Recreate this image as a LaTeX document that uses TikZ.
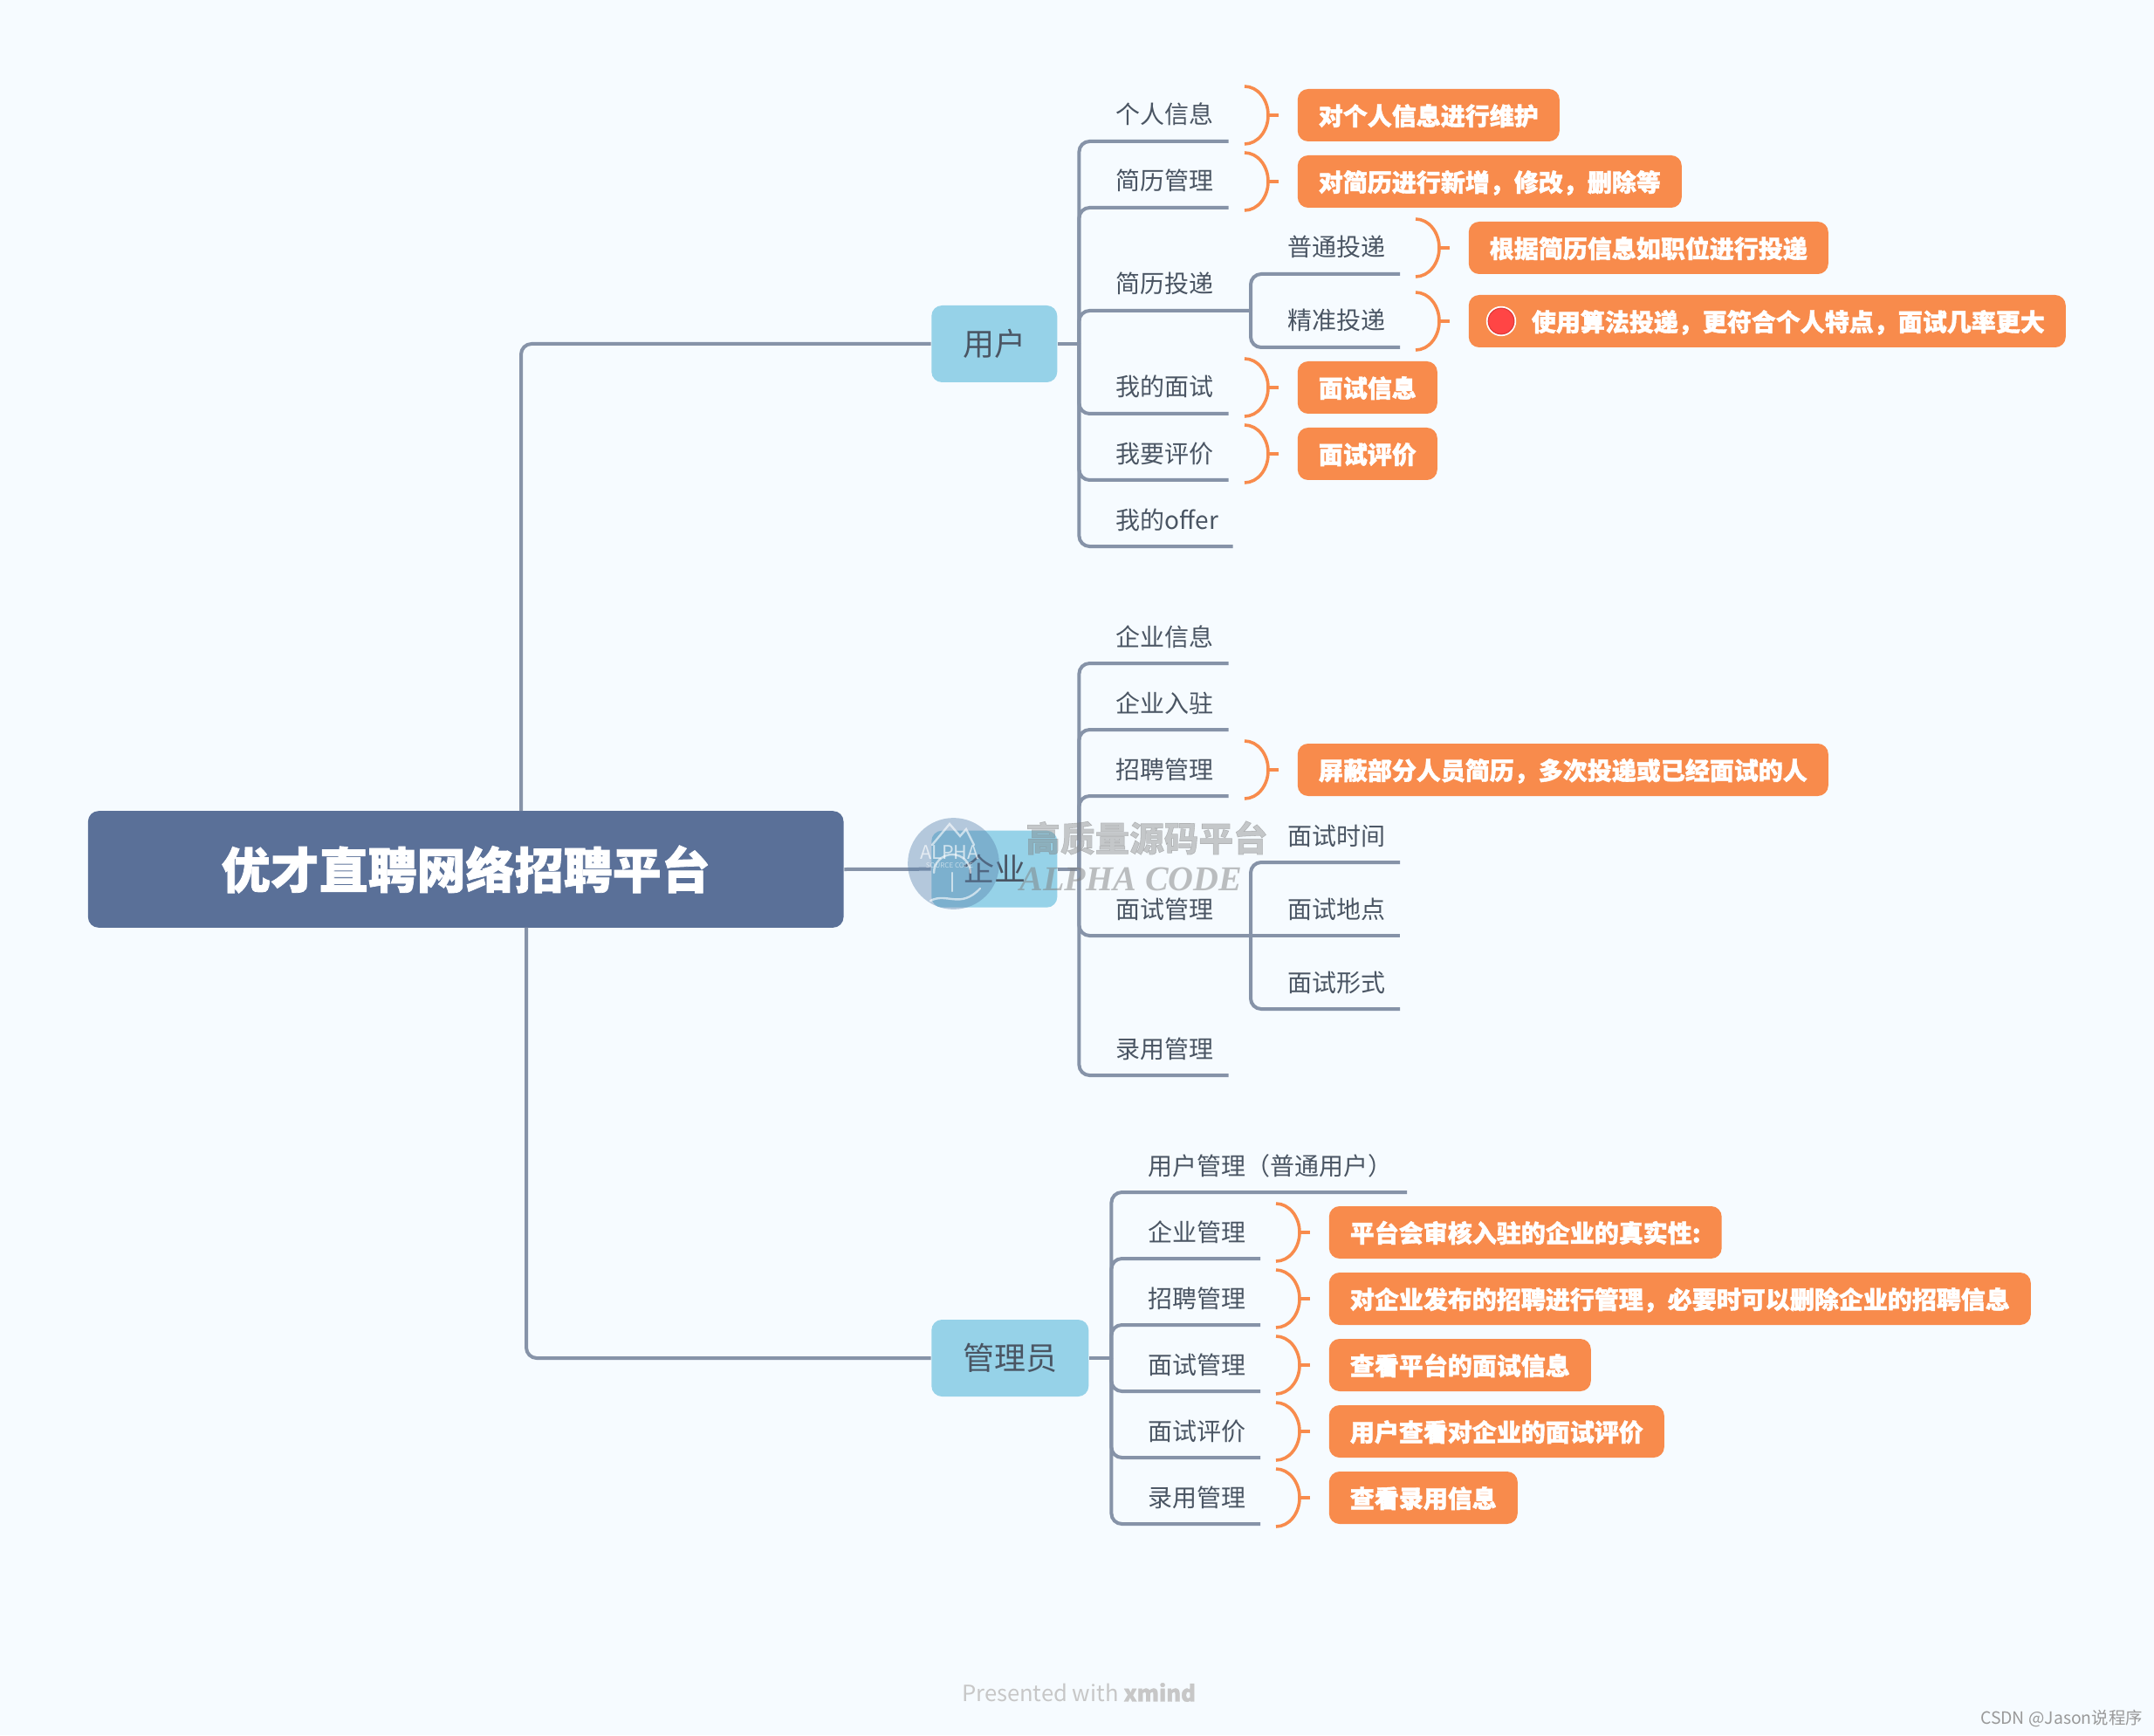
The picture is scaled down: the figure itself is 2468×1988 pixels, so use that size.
\documentclass[tikz,border=0pt]{standalone}
\usepackage{xcolor}
\usepackage{fontspec}
\setmainfont[BoldFeatures={FakeBold=1.4}]{Noto Sans CJK SC}
\newfontfamily\markfont{Liberation Serif}
\definecolor{bgcol}{HTML}{F6FBFF}
\definecolor{rootcol}{HTML}{5A7098}
\definecolor{maincol}{HTML}{96D2E8}
\definecolor{notecol}{HTML}{F88B4C}
\definecolor{linecol}{HTML}{8693A8}
\definecolor{inkcol}{HTML}{4A5563}
\definecolor{dotcol}{HTML}{FF4545}
\definecolor{ringcol}{HTML}{E03C3C}
\definecolor{logocol}{HTML}{5A82AC}
\begin{document}
\begin{tikzpicture}[
    x=0.25pt, y=-0.25pt,
    root/.style={fill=rootcol, rounded corners=3pt, text=white, inner sep=0pt,
                 font=\fontsize{14}{16}\selectfont\bfseries,
                 minimum width=216.4pt, minimum height=33.4pt},
    mainb/.style={fill=maincol, rounded corners=3pt, text=inkcol, anchor=west,
                  font=\fontsize{9}{11}\selectfont, inner xsep=9pt, inner ysep=0pt,
                  minimum height=22pt, text height=7.92pt, text depth=1.08pt},
    topic/.style={anchor=south west, text=inkcol, inner sep=0pt,
                  font=\fontsize{7}{9}\selectfont, minimum height=16pt,
                  text height=6.7pt, text depth=.3pt,
                  execute at end node={\hspace*{4pt}}},
    note/.style={fill=notecol, rounded corners=3pt, text=white, anchor=west,
                 font=\fontsize{7}{9}\selectfont\bfseries, inner xsep=6pt, inner ysep=0pt,
                 minimum height=15pt, text height=6.35pt, text depth=.65pt},
    branch/.style={draw=linecol, line width=1pt, rounded corners=3pt},
    redmark/.style={circle, inner sep=0pt, minimum size=7.4pt, fill=dotcol, draw=ringcol,
                    line width=.3pt, preaction={draw=white, line width=1.2pt}},
    logoline/.style={draw=white, opacity=.6, line width=.6pt, line cap=round},
    brk/.pic={
        \draw[notecol, line width=.9pt] (-60,-33) .. controls (-45,-33) and (-33,-18) .. (-33,0)
            .. controls (-33,18) and (-45,33) .. (-60,33);
        \draw[notecol, line width=.9pt] (-33,0) -- (-21,0);
    },
]
\useasboundingbox (0,0) rectangle (2468,1988);
\fill[bgcol] (0,0) rectangle (2468,1988);

\node[root] (plat) at (533.7,996) {优才直聘网络招聘平台};
\node[mainb] (user) at (1066.5,394) {用户};
\node[mainb] (comp) at (1066.5,995.7) {企业};
\node[mainb] (admin) at (1066.5,1556) {管理员};

\node[topic] (ua) at (1278,162) {个人信息};
\node[topic] (ub) at (1278,238) {简历管理};
\node[topic] (uc) at (1278,356) {简历投递};
\node[topic] (ud) at (1278,474) {我的面试};
\node[topic] (ue) at (1278,550) {我要评价};
\node[topic] (uf) at (1278,626) {我的offer};
\node[topic] (va) at (1474.5,314) {普通投递};
\node[topic] (vb) at (1474.5,398) {精准投递};

\node[topic] (ca) at (1278,760) {企业信息};
\node[topic] (cb) at (1278,836) {企业入驻};
\node[topic] (cc) at (1278,912) {招聘管理};
\node[topic] (cd) at (1278,1072) {面试管理};
\node[topic] (ce) at (1278,1232) {录用管理};
\node[topic] (wa) at (1474.5,988) {面试时间};
\node[topic] (wb) at (1474.5,1072) {面试地点};
\node[topic] (wc) at (1474.5,1156) {面试形式};

\node[topic] (aa) at (1314.5,1366) {用户管理（普通用户）};
\node[topic] (ab) at (1314.5,1442) {企业管理};
\node[topic] (ac) at (1314.5,1518) {招聘管理};
\node[topic] (ad) at (1314.5,1594) {面试管理};
\node[topic] (ae) at (1314.5,1670) {面试评价};
\node[topic] (af) at (1314.5,1746) {录用管理};

\node[note] (na) at (1486,132) {对个人信息进行维护};
\node[note] (nb) at (1486,208) {对简历进行新增，修改，删除等};
\node[note] (nc) at (1682,284) {根据简历信息如职位进行投递};
\node[note] (nd) at (1682,368) {\hspace*{12pt}使用算法投递，更符合个人特点，面试几率更大};
\node[note] (ne) at (1486,444) {面试信息};
\node[note] (nf) at (1486,520) {面试评价};
\node[note] (ng) at (1486,882) {屏蔽部分人员简历，多次投递或已经面试的人};
\node[note] (nh) at (1522,1412) {平台会审核入驻的企业的真实性:};
\node[note] (ni) at (1522,1488) {对企业发布的招聘进行管理，必要时可以删除企业的招聘信息};
\node[note] (nj) at (1522,1564) {查看平台的面试信息};
\node[note] (nk) at (1522,1640) {用户查看对企业的面试评价};
\node[note] (nl) at (1522,1716) {查看录用信息};
\node[redmark] (dot) at (1720,368) {};

\coordinate (rootup) at (597,929);
\coordinate (rootdn) at (603,1062.7);
\coordinate (hubu) at (1236.4,394);
\coordinate (hubc) at (1236.4,995.7);
\coordinate (huba) at (1273.4,1556);
\coordinate (hubv) at (1433,356);
\coordinate (hubw) at (1433,1072);

\draw[branch] (rootup) |- (user.west);
\draw[branch] (plat.east) -- (comp.west);
\draw[branch] (rootdn) |- (admin.west);

\draw[branch] (user.east) -- (hubu);
\draw[branch] (hubu) |- (ua.south east);
\draw[branch] (hubu) |- (ub.south east);
\draw[branch] (hubu) |- (hubv);
\draw[branch] (hubu) |- (ud.south east);
\draw[branch] (hubu) |- (ue.south east);
\draw[branch] (hubu) |- (uf.south east);
\draw[branch] (hubv) |- (va.south east);
\draw[branch] (hubv) |- (vb.south east);

\draw[branch] (comp.east) -- (hubc);
\draw[branch] (hubc) |- (ca.south east);
\draw[branch] (hubc) |- (cb.south east);
\draw[branch] (hubc) |- (cc.south east);
\draw[branch] (hubc) |- (hubw);
\draw[branch] (hubc) |- (ce.south east);
\draw[branch] (hubw) |- (wa.south east);
\draw[branch] (hubw) -- (wb.south east);
\draw[branch] (hubw) |- (wc.south east);

\draw[branch] (admin.east) -- (huba);
\draw[branch] (huba) |- (aa.south east);
\draw[branch] (huba) |- (ab.south east);
\draw[branch] (huba) |- (ac.south east);
\draw[branch] (huba) |- (ad.south east);
\draw[branch] (huba) |- (ae.south east);
\draw[branch] (huba) |- (af.south east);

\pic at (na.west) {brk};
\pic at (nb.west) {brk};
\pic at (nc.west) {brk};
\pic at (nd.west) {brk};
\pic at (ne.west) {brk};
\pic at (nf.west) {brk};
\pic at (ng.west) {brk};
\pic at (nh.west) {brk};
\pic at (ni.west) {brk};
\pic at (nj.west) {brk};
\pic at (nk.west) {brk};
\pic at (nl.west) {brk};

\node[circle, fill=logocol, opacity=.42, minimum size=26.2pt, inner sep=0pt] (logo) at (1092.5,989.5) {};
\draw[logoline] (1068,968) -- (1088,944) -- (1100,958) -- (1107,950) -- (1116,968);
\draw[logoline] (1070,1000) arc[start angle=180, end angle=360, radius=21];
\draw[logoline] (1091,1000) -- (1091,1021);
\draw[logoline] (1066,1032) .. controls (1085,1022) and (1100,1042) .. (1123,1018);
\node[text=white, opacity=.65, font=\fontsize{5.4}{6}\selectfont, inner sep=0pt] (logotxt) at (1088,977) {ALPHA};
\node[text=white, opacity=.55, font=\fontsize{2}{3}\selectfont, inner sep=0pt] (logosub) at (1088,992) {SOURCE CODE};
\node[text=gray, opacity=.42, font=\fontsize{9.9}{11}\selectfont\bfseries, inner sep=0pt] (markcn) at (1314,960) {高质量源码平台};
\node[text=gray, opacity=.5, font=\fontsize{10}{12}\markfont\bfseries\itshape, inner sep=0pt] (markla) at (1296,1007) {ALPHA CODE};

\node[text=black!22, font=\fontsize{6.4}{8}\selectfont, inner sep=0pt] (brand) at (1236,1939) {Presented with \textbf{xmind}};
\node[text=black!40, font=\fontsize{4.85}{6}\selectfont, inner sep=0pt] (csdn) at (2362,1969) {CSDN @Jason说程序};
\end{tikzpicture}
\end{document}
